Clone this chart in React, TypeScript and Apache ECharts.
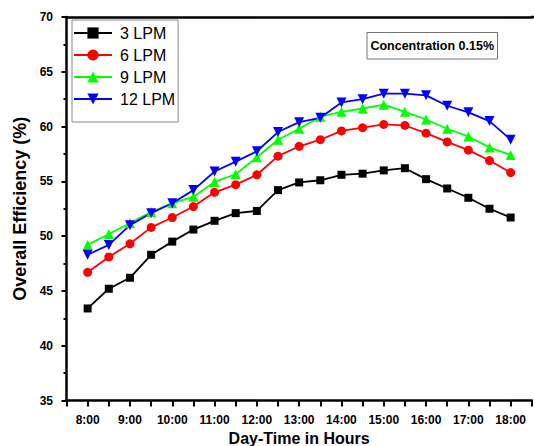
import React, { useEffect, useRef } from "react";
import * as echarts from "echarts";

const hours = [8, 8.5, 9, 9.5, 10, 10.5, 11, 11.5, 12, 12.5, 13, 13.5, 14, 14.5, 15, 15.5, 16, 16.5, 17, 17.5, 18];
const lpm3 = [43.4, 45.2, 46.2, 48.3, 49.5, 50.6, 51.4, 52.1, 52.3, 54.2, 54.9, 55.1, 55.6, 55.7, 56.0, 56.2, 55.2, 54.35, 53.5, 52.5, 51.7];
const lpm6 = [46.7, 48.1, 49.3, 50.8, 51.7, 52.7, 54.0, 54.7, 55.6, 57.3, 58.2, 58.8, 59.6, 59.9, 60.2, 60.1, 59.4, 58.6, 57.85, 56.9, 55.8];
const lpm9 = [49.2, 50.2, 51.2, 52.2, 53.0, 53.6, 54.95, 55.65, 57.2, 58.8, 59.8, 60.9, 61.35, 61.65, 62.0, 61.35, 60.65, 59.8, 59.1, 58.1, 57.4];
const lpm12 = [48.3, 49.2, 51.0, 52.1, 53.0, 54.2, 55.9, 56.8, 57.75, 59.5, 60.4, 60.8, 62.2, 62.5, 63.0, 63.0, 62.85, 61.9, 61.3, 60.5, 58.8];
const seriesNames = ["3 LPM", "6 LPM", "9 LPM", "12 LPM"];
const annotation = "Concentration 0.15%";
const xTitle = "Day-Time in Hours";
const yTitle = "Overall Efficiency (%)";

const FONT = 'Arial, "Liberation Sans", sans-serif';

export default function App() {
  const ref = useRef<HTMLDivElement>(null);
  useEffect(() => {
    document.body.style.margin = "0";
    const chart = echarts.init(ref.current!, null, { renderer: "svg" });
    const mk = (name: string, vals: number[], color: string, symbol: string, size: number, rotate = 0) => ({
      name,
      type: "line",
      data: hours.map((h, i) => [h, vals[i]]),
      symbol,
      symbolSize: size,
      symbolRotate: rotate,
      showSymbol: true,
      lineStyle: { color, width: 1.8 },
      itemStyle: { color, borderWidth: 0 },
      z: 3,
    });
    chart.setOption({
      animation: false,
      textStyle: { fontFamily: FONT },
      grid: { left: 66.5, right: 2.2, top: 17, bottom: 45.5, containLabel: false, outerBoundsMode: "none" },
      legend: {
        orient: "vertical",
        left: 72,
        top: 20,
        itemWidth: 38,
        itemHeight: 14,
        itemGap: 6,
        padding: [5, 3, 15, 1],
        borderColor: "#888",
        borderWidth: 1,
        borderRadius: 0,
        backgroundColor: "#fff",
        textStyle: { fontSize: 16, color: "#000", fontFamily: FONT, padding: [0, 0, 0, 3] },
        data: seriesNames,
      },
      xAxis: [
        {
          type: "value",
          min: 7.5,
          max: 18.5,
          interval: 0.5,
          name: xTitle,
          nameLocation: "middle",
          nameGap: 29,
          nameTextStyle: { fontSize: 16, fontWeight: "bold", color: "#000", fontFamily: FONT },
          axisLine: { show: true, onZero: false, lineStyle: { color: "#000", width: 2.5 } },
          axisTick: { show: true, length: 6, lineStyle: { color: "#000", width: 2 } },
          axisLabel: {
            color: "#000",
            fontSize: 12,
            fontWeight: "bold",
            margin: 13,
            formatter: (v: number) => (Number.isInteger(v) && v >= 8 && v <= 18 ? `${v}:00` : ""),
          },
          splitLine: { show: false },
        },
        {
          type: "value",
          position: "top",
          min: 7.5,
          max: 18.5,
          axisLine: { show: true, onZero: false, lineStyle: { color: "#000", width: 2.5 } },
          axisTick: { show: false },
          axisLabel: { show: false },
          splitLine: { show: false },
        },
      ],
      yAxis: {
        type: "value",
        min: 35,
        max: 70,
        interval: 5,
        name: yTitle,
        nameLocation: "middle",
        nameGap: 32,
        nameTextStyle: { fontSize: 18, fontWeight: "bold", color: "#000", fontFamily: FONT },
        axisLine: { show: true, onZero: false, lineStyle: { color: "#000", width: 2.5 } },
        axisTick: { show: true, length: 5, lineStyle: { color: "#000", width: 2 } },
        minorTick: { show: true, splitNumber: 2, length: 3, lineStyle: { color: "#000", width: 2 } },
        axisLabel: { color: "#000", fontSize: 12, fontWeight: "bold", margin: 13.5 },
        splitLine: { show: false },
      },
      graphic: [
        {
          type: "line",
          shape: { x1: 531, y1: 17, x2: 534, y2: 17 },
          style: { stroke: "#000", lineWidth: 2.5 },
          z: 10,
        },
        {
          type: "rect",
          shape: { x: 367, y: 32.5, width: 130.5, height: 26.5 },
          style: { fill: "#fff", stroke: "#777", lineWidth: 1 },
          z: 10,
        },
        {
          type: "text",
          x: 432.2,
          y: 46,
          style: {
            text: annotation,
            fontSize: 12.5,
            fontWeight: "bold",
            fontFamily: FONT,
            fill: "#000",
            align: "center",
            verticalAlign: "middle",
          },
          z: 11,
        },
      ],
      series: [
        mk(seriesNames[0], lpm3, "#000000", "rect", 8),
        mk(seriesNames[1], lpm6, "#ff0000", "circle", 9),
        mk(seriesNames[2], lpm9, "#00ff00", "triangle", 10),
        mk(seriesNames[3], lpm12, "#0000ff", "triangle", 10, 180),
      ],
    });
    return () => chart.dispose();
  }, []);
  return <div ref={ref} style={{ width: 534, height: 446 }} />;
}
